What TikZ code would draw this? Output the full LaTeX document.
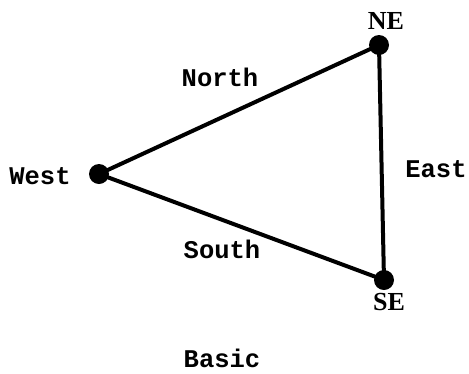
\documentclass[tikz,border=0pt]{standalone}
\usepackage{fontspec}
\setmainfont{Liberation Serif}
\setmonofont{Liberation Mono}
\begin{document}
\begin{tikzpicture}[x=1pt,y=-1pt,
  vtx/.style={circle,fill=black,inner sep=0pt,minimum size=20pt},
  lbl/.style={font=\ttfamily\bfseries\fontsize{25.5}{25.5}\selectfont,inner sep=0pt},
  clbl/.style={font=\rmfamily\bfseries\fontsize{26}{26}\selectfont,inner sep=0pt},
  edge/.style={line width=4pt}]
\useasboundingbox (0,0) rectangle (469,373);
\node[vtx] (W) at (99,174) {};
\node[vtx] (NE) at (379,45) {};
\node[vtx] (SE) at (384,280) {};
\draw[edge] (W.center) -- (NE.center) -- (SE.center) -- (W.center);
\node[lbl] (westl) at (40,176) {West};
\node[lbl] (northl) at (220,77) {North};
\node[lbl] (eastl) at (436,169) {East};
\node[lbl] (southl) at (222,249) {South};
\node[lbl] (basicl) at (222,358) {Basic};
\node[clbl] (nel) at (386,21) {NE};
\node[clbl] (sel) at (389,302) {SE};
\end{tikzpicture}
\end{document}
